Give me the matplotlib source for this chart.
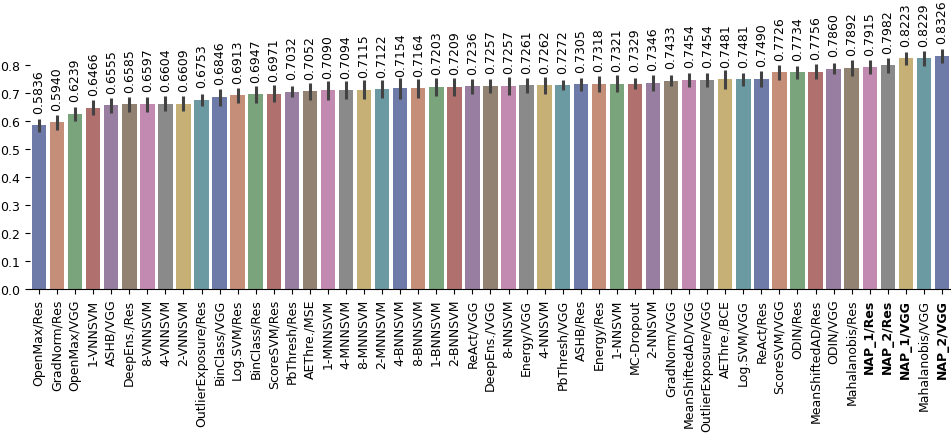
import matplotlib
matplotlib.use("Agg")
import matplotlib.pyplot as plt
import numpy as np

methods = ["OpenMax/Res", "GradNorm/Res", "OpenMax/VGG", "1-VNNSVM", "ASHB/VGG",
           "DeepEns./Res", "8-VNNSVM", "4-VNNSVM", "2-VNNSVM", "OutlierExposure/Res",
           "BinClass/VGG", "Log.SVM/Res", "BinClass/Res", "ScoreSVM/Res", "PbThresh/Res",
           "AEThre./MSE", "1-MNNSVM", "4-MNNSVM", "8-MNNSVM", "2-MNNSVM",
           "4-BNNSVM", "8-BNNSVM", "1-BNNSVM", "2-BNNSVM", "ReAct/VGG",
           "DeepEns./VGG", "8-NNSVM", "Energy/VGG", "4-NNSVM", "PbThresh/VGG",
           "ASHB/Res", "Energy/Res", "1-NNSVM", "MC-Dropout", "2-NNSVM",
           "GradNorm/VGG", "MeanShiftedAD/VGG", "OutlierExposure/VGG", "AEThre./BCE", "Log.SVM/VGG",
           "ReAct/Res", "ScoreSVM/VGG", "ODIN/Res", "MeanShiftedAD/Res", "ODIN/VGG",
           "Mahalanobis/Res", "NAP_1/Res", "NAP_2/Res", "NAP_1/VGG", "Mahalanobis/VGG",
           "NAP_2/VGG"]

scores = [0.5836, 0.5940, 0.6239, 0.6466, 0.6555, 0.6585, 0.6597, 0.6604, 0.6609, 0.6753,
          0.6846, 0.6913, 0.6947, 0.6971, 0.7032, 0.7052, 0.7090, 0.7094, 0.7115, 0.7122,
          0.7154, 0.7164, 0.7203, 0.7209, 0.7236, 0.7257, 0.7257, 0.7261, 0.7262, 0.7272,
          0.7305, 0.7318, 0.7321, 0.7329, 0.7346, 0.7433, 0.7454, 0.7454, 0.7481, 0.7481,
          0.7490, 0.7726, 0.7734, 0.7756, 0.7860, 0.7892, 0.7915, 0.7982, 0.8223, 0.8229,
          0.8326]

# half length of the error bars
errors = [0.024, 0.025, 0.025, 0.027, 0.026, 0.027, 0.027, 0.027, 0.026, 0.021,
          0.030, 0.027, 0.030, 0.030, 0.020, 0.030, 0.033, 0.033, 0.033, 0.032,
          0.036, 0.034, 0.032, 0.033, 0.027, 0.025, 0.032, 0.028, 0.030, 0.019,
          0.024, 0.028, 0.031, 0.020, 0.028, 0.020, 0.025, 0.025, 0.033, 0.024,
          0.028, 0.026, 0.023, 0.027, 0.020, 0.028, 0.026, 0.027, 0.023, 0.026,
          0.025]

bold = ["NAP_1/Res", "NAP_2/Res", "NAP_1/VGG", "NAP_2/VGG"]

# muted seaborn-like palette, cycled over the bars
pal = ["#6e7ba8", "#c48e78", "#7aa47c", "#b0716e", "#987ea0",
       "#928272", "#c28ab0", "#8a8a8a", "#c6b076", "#6c9aa2"]
colors = [pal[i % 10] for i in range(len(methods))]

fig = plt.figure(figsize=(9.51, 4.35), dpi=100)
ax = fig.add_axes([0.0315, 0.3333, 0.9685, 0.58])

x = np.arange(len(methods))
ax.bar(x, scores, width=0.8, color=colors, yerr=errors,
       error_kw=dict(ecolor=".26", elinewidth=2.2, capsize=0))

for i, s in enumerate(scores):
    ax.text(i, s + 0.045, "%.4f" % s, rotation=90, ha="center", va="bottom", fontsize=9)

ax.set_xlim(-0.5, len(methods) - 0.5)
ax.set_ylim(0, 0.9)
ax.set_yticks(np.arange(0, 0.81, 0.1))
ax.set_yticklabels(["%.1f" % v for v in np.arange(0, 0.81, 0.1)], fontsize=9)
ax.set_xticks(x)
ax.set_xticklabels(methods, rotation=90, fontsize=9)
for lab in ax.get_xticklabels():
    if lab.get_text() in bold:
        lab.set_fontweight("bold")

for side in ["top", "right", "left"]:
    ax.spines[side].set_visible(False)

fig.savefig("out.png", dpi=100)
